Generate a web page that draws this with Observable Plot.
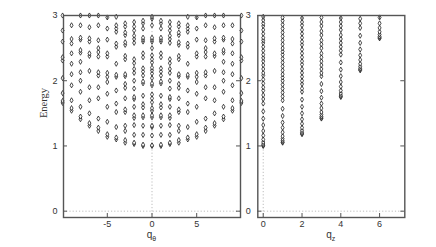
<!DOCTYPE html>
<html>
<head>
<meta charset="utf-8">
<script src="https://cdn.jsdelivr.net/npm/d3@7"></script>
<script src="https://cdn.jsdelivr.net/npm/@observablehq/plot@0.6"></script>
<style>
  html, body { margin: 0; padding: 0; background: white; }
  #wrap { position: relative; width: 436px; height: 247px; overflow: hidden; }
  #wrap svg { position: absolute; top: 0; overflow: visible; }
</style>
</head>
<body>
<div id="wrap"></div>
<script>
// ---- Data: left panel, energies per |q_theta| column (spectrum symmetric in q_theta) ----
const qThetaAbs = [0, 1, 2, 3, 4, 5, 6, 7, 8, 9, 10];
const eTheta0 = [1.0, 1.01, 1.16, 1.29, 1.31, 1.44, 1.47, 1.54, 1.58, 1.67, 1.73, 1.79, 1.93, 1.96, 2.04, 2.11, 2.16, 2.2, 2.28, 2.33, 2.39, 2.5, 2.6, 2.63, 2.66, 2.85, 2.95, 2.98];
const eTheta1 = [1.0, 1.02, 1.17, 1.31, 1.44, 1.47, 1.59, 1.64, 1.77, 1.96, 1.99, 2.08, 2.14, 2.19, 2.36, 2.42, 2.6, 2.63, 2.66, 2.8, 2.88, 2.92];
const eTheta2 = [1.03, 1.05, 1.17, 1.32, 1.43, 1.47, 1.6, 1.72, 1.75, 1.88, 2.0, 2.12, 2.18, 2.27, 2.33, 2.58, 2.64, 2.69, 2.77, 2.83, 2.9];
const eTheta3 = [1.05, 1.09, 1.23, 1.31, 1.52, 1.56, 1.73, 1.89, 1.95, 2.07, 2.1, 2.33, 2.38, 2.55, 2.59, 2.7, 2.74, 2.83, 2.88];
const eTheta4 = [1.1, 1.13, 1.29, 1.52, 1.65, 1.85, 2.06, 2.09, 2.26, 2.52, 2.57, 2.75, 2.8, 2.85, 2.98];
const eTheta5 = [1.14, 1.18, 1.37, 1.6, 1.8, 1.98, 2.06, 2.12, 2.37, 2.42, 2.63, 2.8, 2.97];
const eTheta6 = [1.23, 1.28, 1.42, 1.73, 1.9, 2.08, 2.13, 2.37, 2.44, 2.5, 2.62, 2.85, 3.0];
const eTheta7 = [1.31, 1.35, 1.5, 1.7, 1.9, 2.15, 2.38, 2.42, 2.6, 2.65, 2.82, 3.0];
const eTheta8 = [1.41, 1.45, 1.6, 1.83, 2.0, 2.13, 2.29, 2.43, 2.47, 2.63, 2.66, 2.85, 3.0];
const eTheta9 = [1.54, 1.58, 1.7, 1.93, 2.1, 2.26, 2.42, 2.57, 2.64, 2.85];
const eTheta10 = [1.66, 1.69, 1.81, 2.04, 2.31, 2.36, 2.6, 2.77, 3.0];
const thetaLevels = [eTheta0, eTheta1, eTheta2, eTheta3, eTheta4, eTheta5, eTheta6, eTheta7, eTheta8, eTheta9, eTheta10];

// ---- Data: right panel, energies per q_z column ----
const qZ = [0, 1, 2, 3, 4, 5, 6];
const eZ0 = [1.0, 1.01, 1.03, 1.06, 1.1, 1.16, 1.23, 1.32, 1.42, 1.53, 1.65, 1.72, 1.78, 1.85, 1.9, 1.96, 2.02, 2.08, 2.12, 2.18, 2.24, 2.3, 2.35, 2.4, 2.46, 2.52, 2.58, 2.62, 2.66, 2.72, 2.78, 2.84, 2.88, 2.93, 2.98];
const eZ1 = [1.05, 1.06, 1.08, 1.11, 1.15, 1.21, 1.28, 1.36, 1.46, 1.57, 1.7, 1.76, 1.82, 1.88, 1.94, 2.0, 2.05, 2.1, 2.16, 2.22, 2.28, 2.34, 2.4, 2.45, 2.5, 2.56, 2.62, 2.68, 2.74, 2.8, 2.86, 2.92, 2.97];
const eZ2 = [1.18, 1.19, 1.21, 1.24, 1.28, 1.34, 1.41, 1.5, 1.6, 1.71, 1.83, 1.88, 1.95, 2.0, 2.06, 2.12, 2.18, 2.25, 2.3, 2.36, 2.42, 2.48, 2.55, 2.6, 2.66, 2.72, 2.78, 2.85, 2.9, 2.96];
const eZ3 = [1.42, 1.43, 1.45, 1.48, 1.52, 1.58, 1.65, 1.74, 1.84, 1.95, 2.07, 2.12, 2.18, 2.24, 2.3, 2.36, 2.42, 2.5, 2.56, 2.62, 2.7, 2.76, 2.84, 2.9, 2.97];
const eZ4 = [1.75, 1.76, 1.78, 1.81, 1.85, 1.91, 1.98, 2.07, 2.17, 2.28, 2.4, 2.46, 2.52, 2.58, 2.64, 2.7, 2.78, 2.84, 2.9, 2.96];
const eZ5 = [2.16, 2.17, 2.19, 2.22, 2.26, 2.32, 2.39, 2.48, 2.58, 2.69, 2.81, 2.88, 2.95];
const eZ6 = [2.65, 2.66, 2.68, 2.71, 2.75, 2.81, 2.88, 2.97];
const zLevels = [eZ0, eZ1, eZ2, eZ3, eZ4, eZ5, eZ6];

// ---- Tick labels ----
const yTicks = [0, 1, 2, 3];
const xTicksLeft = [-5, 0, 5];
const xTicksRight = [0, 2, 4, 6];

// ---- Build tables ----
const leftData = [];
qThetaAbs.forEach((a, i) => {
  const qs = a === 0 ? [0] : [-a, a];
  qs.forEach(q => thetaLevels[i].forEach(E => leftData.push({q, E})));
});
const rightData = [];
qZ.forEach((q, i) => zLevels[i].forEach(E => rightData.push({q, E})));

const FRAME = "#555";
const DOT = {stroke: "#111", fill: "white", strokeWidth: 0.75, r: 1.55, symbol: "diamond"};
const guide = {stroke: "#b5b5b5", strokeDasharray: "1.2,2", strokeWidth: 0.9};
const H = 247, MT = 15, MB = 30;
const FH = H - MT - MB;

function panel({data, xDomain, xTicks, width, marginLeft, marginRight, yPad}) {
  const fw = width - marginLeft - marginRight;
  return Plot.plot({
    width, height: H,
    marginLeft, marginRight, marginTop: MT, marginBottom: MB,
    x: {domain: xDomain},
    y: {domain: [-0.097, 3]},
    style: {fontFamily: "'Liberation Sans', Arial, sans-serif", fontSize: "9px", color: "#333", background: "none"},
    marks: [
      Plot.ruleY([0], guide),
      Plot.ruleX([0], guide),
      Plot.dot(data, {x: "q", y: "E", ...DOT}),
      Plot.frame({stroke: FRAME, strokeWidth: 1.4}),
      // inward tick marks
      Plot.ruleY(yTicks, {stroke: FRAME, strokeWidth: 1, insetRight: fw - 4}),
      Plot.ruleY(yTicks, {stroke: FRAME, strokeWidth: 1, insetLeft: fw - 4}),
      Plot.ruleX(xTicks, {stroke: FRAME, strokeWidth: 1, insetTop: FH - 4}),
      Plot.ruleX(xTicks, {stroke: FRAME, strokeWidth: 1, insetBottom: FH - 4}),
      Plot.axisY(yTicks, {anchor: "left", tickSize: 0, tickPadding: yPad, label: null, tickFormat: d => String(d)}),
      Plot.axisX(xTicks, {anchor: "bottom", tickSize: 0, tickPadding: 3, label: null, tickFormat: d => String(d)})
    ]
  });
}

const left = panel({data: leftData, xDomain: [-9.9, 9.9], xTicks: xTicksLeft, width: 245, marginLeft: 63, marginRight: 5, yPad: 6});
const right = panel({data: rightData, xDomain: [-0.28, 7.3], xTicks: xTicksRight, width: 196, marginLeft: 17.3, marginRight: 31.7, yPad: 7});
left.style.left = "0px";
right.style.left = "240px";
const wrap = document.getElementById("wrap");
wrap.appendChild(left);
wrap.appendChild(right);

// axis titles
const sl = d3.select(left);
sl.append("text")
  .attr("transform", "translate(47,103) rotate(-90)")
  .attr("text-anchor", "middle")
  .attr("font-family", "'Liberation Serif', 'Times New Roman', serif")
  .attr("font-size", 10.5).attr("fill", "#333")
  .text("Energy");
function qLabel(sel, x, sub) {
  const t = sel.append("text")
    .attr("x", x).attr("y", 238)
    .attr("text-anchor", "middle")
    .attr("font-family", "'Liberation Sans', Arial, sans-serif")
    .attr("font-size", 10).attr("fill", "#333");
  t.append("tspan").text("q");
  t.append("tspan").attr("font-size", 7).attr("dy", 3).text(sub);
}
qLabel(sl, 151.5, "θ");
qLabel(d3.select(right), 330.8 - 240, "z");
</script>
</body>
</html>
